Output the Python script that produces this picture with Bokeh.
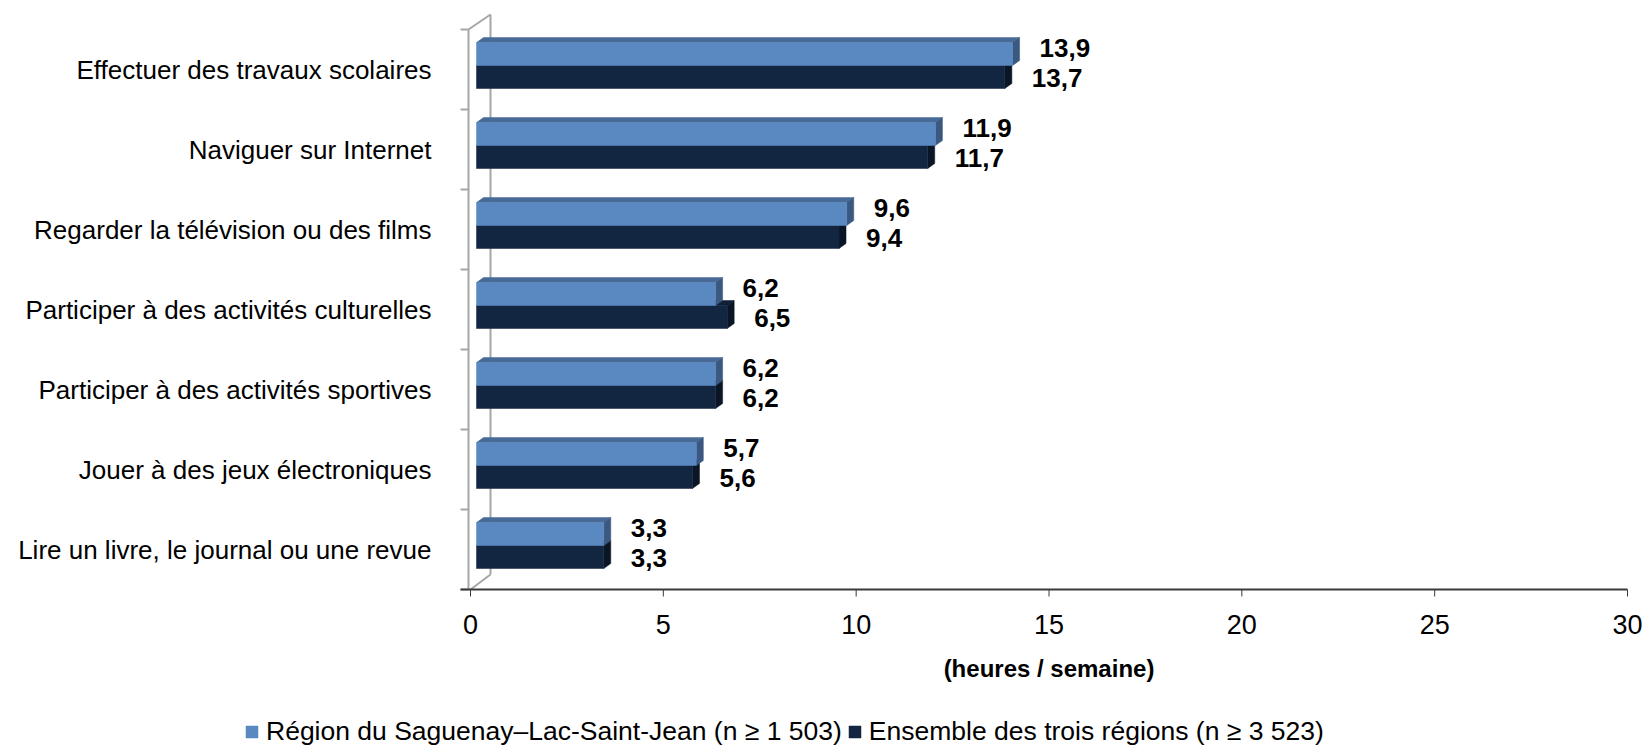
from bokeh.plotting import figure
from bokeh.models import Legend, LegendItem, Range1d
from bokeh.core.properties import value
from bokeh.embed import file_html
from bokeh.resources import INLINE

# ---------------- data ----------------
categories = [
    "Effectuer des travaux scolaires",
    "Naviguer sur Internet",
    "Regarder la télévision ou des films",
    "Participer à des activités culturelles",
    "Participer à des activités sportives",
    "Jouer à des jeux électroniques",
    "Lire un livre, le journal ou une revue",
]
saguenay = [13.9, 11.9, 9.6, 6.2, 6.2, 5.7, 3.3]
ensemble = [13.7, 11.7, 9.4, 6.5, 6.2, 5.6, 3.3]
series_names = [
    "Région du Saguenay–Lac-Saint-Jean (n ≥ 1 503)",
    "Ensemble des trois régions (n ≥ 3 523)",
]
x_ticks = [0, 5, 10, 15, 20, 25, 30]
x_title = "(heures / semaine)"

# ---------------- style ----------------
FONT = "Liberation Sans"
COLORS = [
    dict(front="#5a88c1", top="#476a97", side="#3a5880"),
    dict(front="#132641", top="#0f1f36", side="#0a1626"),
]
WALL = "#a6a6a6"
AXIS = "#3a3a3a"

W, H = 1644, 752          # canvas
PXU = 38.567              # px per hour
BAND = 80.0               # px per category
ZERO_X = 470              # canvas x of value 0
AXIS_Y_FROM_BOTTOM = 163  # px from canvas bottom to the value axis

n = len(categories)


def dx(px):
    return px / PXU


def dy(px):
    return px / BAND


x_start = -dx(ZERO_X)
x_end = x_start + dx(W)
y_start = -0.5 - dy(AXIS_Y_FROM_BOTTOM)
y_end = y_start + dy(H)

p = figure(width=W, height=H, output_backend="svg", toolbar_location=None,
           title=None, x_axis_location=None, y_axis_location=None,
           x_range=Range1d(x_start, x_end), y_range=Range1d(y_start, y_end),
           min_border=0)
p.outline_line_color = None
p.xgrid.visible = False
p.ygrid.visible = False
p.background_fill_color = "white"
p.border_fill_color = "white"

# ---------------- 3D wall (left) ----------------
wall_x0 = [dx(-2), dx(-2), dx(20), 0]
wall_y0 = [-0.5, n - 0.5, -0.5 + dy(15), -0.5]
wall_x1 = [dx(-2), dx(20), dx(20), dx(20)]
wall_y1 = [n - 0.5, n - 0.5 + dy(15), n - 0.5 + dy(15), -0.5 + dy(15)]
for k in range(n + 1):
    wall_x0.append(dx(-10)); wall_x1.append(dx(-2))
    wall_y0.append(k - 0.5); wall_y1.append(k - 0.5)
p.segment(wall_x0, wall_y0, wall_x1, wall_y1, line_color=WALL, line_width=2)

# ---------------- value axis ----------------
p.segment([dx(-10)], [-0.5], [x_ticks[-1]], [-0.5], line_color=AXIS, line_width=2)
p.segment(x_ticks, [-0.5] * len(x_ticks), x_ticks, [-0.5 - dy(7)] * len(x_ticks),
          line_color=AXIS, line_width=1)
p.text(x=x_ticks, y=[-0.5 - dy(34.5)] * len(x_ticks), text=[str(t) for t in x_ticks],
       text_font=value(FONT), text_font_size="27px", text_align="center",
       text_baseline="middle", text_color="black")
p.text(x=[x_ticks[-1] / 2], y=[-0.5 - dy(79)], text=[x_title],
       text_font=value(FONT), text_font_style="bold", text_font_size="24px",
       text_align="center", text_baseline="middle", text_color="black")

# ---------------- category labels ----------------
p.text(x=[dx(-39)] * n, y=[n - 1 - i for i in range(n)], text=categories,
       text_font=value(FONT), text_font_size="26px", text_align="right",
       text_baseline="middle", text_color="black")

# ---------------- bars (3D look) ----------------
BAR_OFF = dx(6)
BAR_H = dy(23)
TOP0 = dy(13)
DEP_X = dx(7)
DEP_Y = dy(5)

front = {}
for s in (1, 0):
    vals = [saguenay, ensemble][s]
    col = COLORS[s]
    L, R, T, B = [], [], [], []
    txs, tys, sxs, sys_ = [], [], [], []
    for i, v in enumerate(vals):
        band_top = (n - 1 - i) + 0.5
        t = band_top - TOP0 - s * BAR_H
        b = t - BAR_H
        l = BAR_OFF
        r = v + BAR_OFF
        L.append(l); R.append(r); T.append(t); B.append(b)
        txs.append([l, r, r + DEP_X, l + DEP_X])
        tys.append([t, t, t + DEP_Y, t + DEP_Y])
        sxs.append([r, r, r + DEP_X, r + DEP_X])
        sys_.append([b, t, t + DEP_Y, b + DEP_Y])
    p.patches(txs, tys, fill_color=col["top"], line_color=col["top"], line_width=0.5)
    p.patches(sxs, sys_, fill_color=col["side"], line_color=col["side"], line_width=0.5)
    front[s] = p.quad(left=L, right=R, top=T, bottom=B, fill_color=col["front"],
                      line_color=col["front"], line_width=0.5)

# ---------------- value labels ----------------
LBL_DX = dx(27)
lab_x, lab_y, lab_t = [], [], []
for s, vals in enumerate([saguenay, ensemble]):
    off = dy(18.5) if s == 0 else dy(48)
    for i, v in enumerate(vals):
        band_top = (n - 1 - i) + 0.5
        lab_x.append(v + BAR_OFF + LBL_DX)
        lab_y.append(band_top - off)
        lab_t.append(f"{v:.1f}".replace(".", ","))
p.text(x=lab_x, y=lab_y, text=lab_t, text_font=value(FONT), text_font_style="bold",
       text_font_size="26px", text_align="left", text_baseline="middle", text_color="black")

# ---------------- legend ----------------
legend = Legend(items=[LegendItem(label=series_names[s], renderers=[front[s]]) for s in (0, 1)],
                orientation="horizontal", location=(244, 5),
                glyph_width=15, glyph_height=15, label_standoff=7, spacing=5,
                padding=0, margin=0, border_line_color=None, background_fill_alpha=0,
                label_text_font=FONT, label_text_font_size="26.5px", label_text_color="black")
p.add_layout(legend, "center")

open("out.html", "w").write(file_html(p, INLINE))
